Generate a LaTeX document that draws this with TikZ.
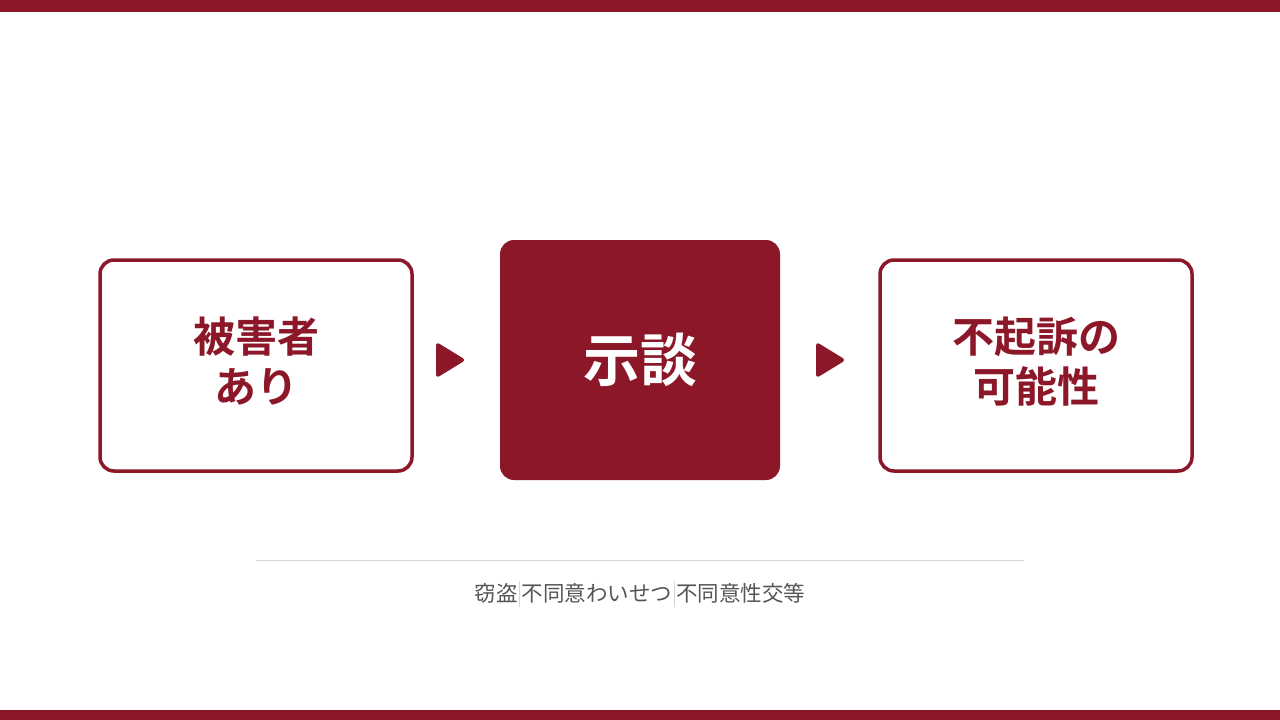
\documentclass[tikz,border=0pt]{standalone}
\usepackage{fontspec}
\setmainfont{Noto Sans CJK JP}[BoldFont={Noto Sans CJK JP Bold}]
\usepackage{tikz}
\usetikzlibrary{positioning}

\definecolor{wine}{HTML}{8C1728}
\definecolor{rulegray}{HTML}{D6D6D6}
\definecolor{notegray}{HTML}{555555}
\newcommand{\notesep}{\hspace{1.5pt}\textcolor{rulegray}{\rule[-6pt]{1pt}{26pt}}\hspace{1.5pt}}

\tikzset{
  stepbox/.style={draw=wine, line width=3.5pt, rounded corners=14pt, fill=white,
    minimum width=312pt, minimum height=211pt},
  steptext/.style={align=center, text=wine, font=\fontsize{42}{50}\selectfont\bfseries},
  keybox/.style={fill=wine, rounded corners=14pt, minimum width=280pt, minimum height=240pt,
    text=white, font=\fontsize{57}{64}\selectfont\bfseries},
  pointer/.style={fill=wine, draw=wine, line width=2pt, line join=round, rounded corners=2pt}
}

\begin{document}
\begin{tikzpicture}[x=1pt, y=-1pt]
  \useasboundingbox (0,0) rectangle (1280,720);
  \fill[wine] (0,0) rectangle (1280,12);
  \fill[wine] (0,710) rectangle (1280,720);

  \node[stepbox] (victim) at (256,365.5) {};
  \node[steptext] (victimtext) at ([yshift=4pt]victim.center) {被害者\\あり};
  \node[keybox] (settle) at (640,360) {示談};
  \node[stepbox] (nopros) at (1036,365.5) {};
  \node[steptext] (noprostext) at ([yshift=4pt]nopros.center) {不起訴の\\可能性};

  % pointers between the boxes
  \filldraw[pointer] (437,343.5) -- (464,360) -- (437,376.5) -- cycle;
  \filldraw[pointer] (817,343.5) -- (844,360) -- (817,376.5) -- cycle;

  \draw[rulegray, line width=1pt] (256,560.5) -- (1024,560.5);
  \node[text=notegray, font=\fontsize{21.5}{26}\selectfont] (crimes) at (640,594)
    {窃盗\notesep 不同意わいせつ\notesep 不同意性交等};
\end{tikzpicture}
\end{document}
